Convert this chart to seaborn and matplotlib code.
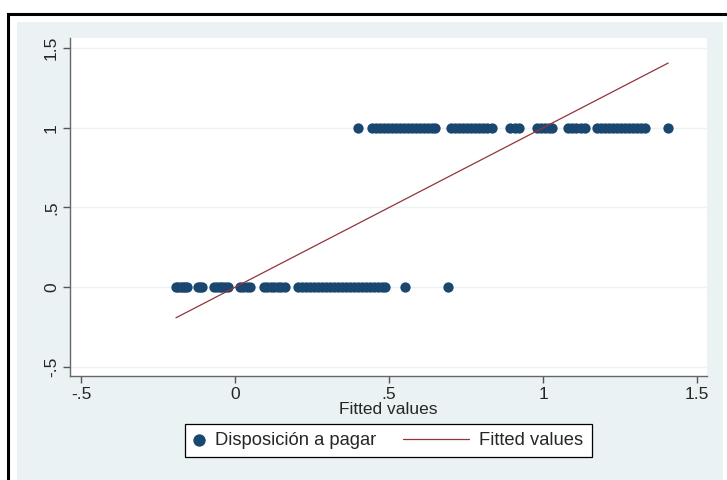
import pandas as pd
import matplotlib.pyplot as plt
import seaborn as sns
from matplotlib.patches import Rectangle
from matplotlib.legend_handler import HandlerLine2D

NAVY = '#1a476f'
MAROON = '#90353b'
BG = '#eaf2f3'

# Fitted values of the observations, split by the observed outcome
fitted_0 = [-0.192, -0.184, -0.177, -0.170, -0.163, -0.156,
            -0.120, -0.113, -0.107,
            -0.068, -0.059, -0.050, -0.041, -0.032, -0.023,
            0.016, 0.027, 0.038, 0.049,
            0.094, 0.105, 0.116, 0.127, 0.138, 0.150, 0.162,
            0.205, 0.218, 0.231, 0.244, 0.257, 0.270, 0.283, 0.296, 0.309,
            0.322, 0.335, 0.348, 0.361, 0.374, 0.387, 0.400, 0.412, 0.425,
            0.438, 0.451, 0.464, 0.476, 0.487,
            0.552, 0.692]
fitted_1 = [0.400,
            0.445, 0.458, 0.471, 0.484, 0.497, 0.510, 0.523, 0.536, 0.549,
            0.562, 0.575, 0.588, 0.601, 0.614, 0.627, 0.640, 0.650,
            0.700, 0.713, 0.726, 0.739, 0.752, 0.765, 0.778, 0.791, 0.804,
            0.817, 0.834,
            0.893, 0.908, 0.922,
            0.980, 0.993, 1.006, 1.018, 1.030,
            1.080, 1.094, 1.108, 1.122, 1.136,
            1.175, 1.188, 1.201, 1.214, 1.227, 1.240, 1.253, 1.266, 1.279,
            1.292, 1.305, 1.318, 1.330,
            1.406]

ticks = [-0.5, 0, 0.5, 1, 1.5]
tick_labels = ['-.5', '0', '.5', '1', '1.5']

df = pd.DataFrame({'fitted': fitted_0 + fitted_1,
                   'pagar': [0] * len(fitted_0) + [1] * len(fitted_1)})
df = df.sort_values('fitted')
df['fit_line'] = df['fitted']


class LongLine(HandlerLine2D):
    """ Line key that reaches further left than the marker key. """
    def create_artists(self, legend, orig_handle, xdescent, ydescent,
                       width, height, fontsize, trans):
        extra = 3.0 * fontsize
        return super().create_artists(legend, orig_handle, xdescent + extra,
                                      ydescent, width + extra, height,
                                      fontsize, trans)


sns.set_theme(style='ticks')
plt.rcParams['font.family'] = ['Liberation Sans', 'DejaVu Sans']

fig = plt.figure(figsize=(7.27, 4.8), dpi=100)
fig.add_artist(Rectangle((8 / 727, -0.1), 1, 0.1 + (480 - 14) / 480,
                         transform=fig.transFigure, facecolor='white',
                         edgecolor='black', lw=2.2, zorder=-2))
fig.add_artist(Rectangle((17 / 727, -0.1), (723 - 17) / 727, 0.1 + (480 - 22) / 480,
                         transform=fig.transFigure, facecolor=BG,
                         edgecolor='none', zorder=-1))

ax = fig.add_axes([70 / 727, 1 - 376 / 480, 637 / 727, 338 / 480])
ax.set_facecolor('white')

sns.scatterplot(data=df, x='fitted', y='pagar', ax=ax, color=NAVY, s=55,
                linewidth=0, label='Disposición a pagar')
sns.lineplot(data=df, x='fitted', y='fit_line', ax=ax, color=MAROON, lw=0.9,
             estimator=None, label='Fitted values')

# Axes
ax.set_xlim(-0.536, 1.532)
ax.set_ylim(-0.557, 1.563)
ax.set_xticks(ticks, tick_labels)
ax.set_yticks(ticks, tick_labels)
for lab in ax.get_yticklabels():
    lab.set_rotation(90)
    lab.set_va('center')
ax.tick_params(direction='out', length=5, width=1, color='#555555',
               labelsize=12.5, pad=3, bottom=True, left=True)
ax.grid(axis='y', color=BG, lw=1)
ax.set_axisbelow(True)
sns.despine(ax=ax)
for side in ['left', 'bottom']:
    ax.spines[side].set_color('#666666')
    ax.spines[side].set_linewidth(1)
ax.set_xlabel('Fitted values', fontsize=12.5, labelpad=0)
ax.set_ylabel('')

# Legend
handles, labels = ax.get_legend_handles_labels()
ax.get_legend().remove()
leg = fig.legend(handles, labels, loc='center',
                 bbox_to_anchor=(388.5 / 727, 1 - 440.5 / 480), ncol=2,
                 frameon=True, fancybox=False, edgecolor='black', framealpha=1,
                 handlelength=0.6, handletextpad=0.55, columnspacing=4.5,
                 borderpad=0.45, fontsize=13.2, markerscale=1.2,
                 handler_map={handles[1]: LongLine()})
leg.get_frame().set_linewidth(0.9)

fig.savefig('out.png', dpi=100)
